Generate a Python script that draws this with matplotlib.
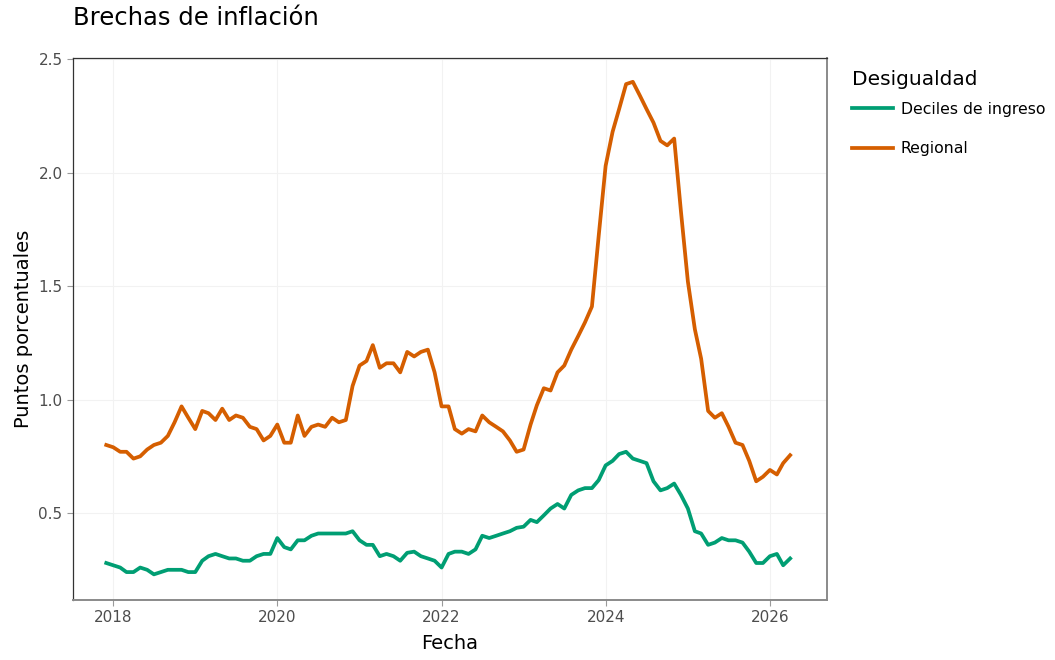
import matplotlib
matplotlib.use("Agg")
import matplotlib.pyplot as plt
import matplotlib.dates as mdates
import pandas as pd

plt.rcParams['font.family'] = ['DejaVu Sans']

start_month = "2017-12-01"
n_months = 101

regional = [
    0.80,
    0.79, 0.77, 0.77, 0.74, 0.75, 0.78, 0.80, 0.81, 0.84, 0.90, 0.97, 0.92,
    0.87, 0.95, 0.94, 0.91, 0.96, 0.91, 0.93, 0.92, 0.88, 0.87, 0.82, 0.84,
    0.89, 0.81, 0.81, 0.93, 0.84, 0.88, 0.89, 0.88, 0.92, 0.90, 0.91, 1.06,
    1.15, 1.17, 1.24, 1.14, 1.16, 1.16, 1.12, 1.21, 1.19, 1.21, 1.22, 1.12,
    0.97, 0.97, 0.87, 0.85, 0.87, 0.86, 0.93, 0.90, 0.88, 0.86, 0.82, 0.77,
    0.78, 0.89, 0.975, 1.05, 1.04, 1.12, 1.15, 1.22, 1.28, 1.34, 1.41, 1.72,
    2.03, 2.18, 2.28, 2.39, 2.40, 2.34, 2.28, 2.22, 2.14, 2.12, 2.15, 1.83,
    1.52, 1.31, 1.18, 0.95, 0.92, 0.94, 0.88, 0.81, 0.80, 0.73, 0.64, 0.66,
    0.69, 0.67, 0.72, 0.755,
]

deciles = [
    0.28,
    0.27, 0.26, 0.24, 0.24, 0.26, 0.25, 0.23, 0.24, 0.25, 0.25, 0.25, 0.24,
    0.24, 0.29, 0.31, 0.32, 0.31, 0.30, 0.30, 0.29, 0.29, 0.31, 0.32, 0.32,
    0.39, 0.35, 0.34, 0.38, 0.38, 0.40, 0.41, 0.41, 0.41, 0.41, 0.41, 0.42,
    0.38, 0.36, 0.36, 0.31, 0.32, 0.31, 0.29, 0.325, 0.33, 0.31, 0.30, 0.29,
    0.26, 0.32, 0.33, 0.33, 0.32, 0.34, 0.40, 0.39, 0.40, 0.41, 0.42, 0.435,
    0.44, 0.47, 0.46, 0.49, 0.52, 0.54, 0.52, 0.58, 0.60, 0.61, 0.61, 0.645,
    0.71, 0.73, 0.76, 0.77, 0.74, 0.73, 0.72, 0.64, 0.60, 0.61, 0.63, 0.58,
    0.52, 0.42, 0.41, 0.36, 0.37, 0.39, 0.38, 0.38, 0.37, 0.33, 0.28, 0.28,
    0.31, 0.32, 0.27, 0.30,
]

series_names = ["Deciles de ingreso", "Regional"]
colors = ["#009E73", "#D55E00"]

dates = pd.date_range(start_month, periods=n_months, freq="MS")

fig = plt.figure(figsize=(10.55, 6.6), dpi=100)
ax = fig.add_axes([73/1055, 60/660, (827-73)/1055, (600-58)/660])

ax.plot(dates, deciles, color=colors[0], lw=2.7, label=series_names[0], solid_joinstyle="round")
ax.plot(dates, regional, color=colors[1], lw=2.7, label=series_names[1], solid_joinstyle="round")

ax.set_xlim(pd.Timestamp("2017-07-06"), pd.Timestamp("2026-09-12"))
ax.set_ylim(0.117, 2.505)
ax.set_yticks([0.5, 1.0, 1.5, 2.0, 2.5])
ax.set_yticklabels(["0.5", "1.0", "1.5", "2.0", "2.5"])
ax.xaxis.set_major_locator(mdates.YearLocator(2))
ax.xaxis.set_major_formatter(mdates.DateFormatter("%Y"))

ax.grid(True, color="#f2f2f2", lw=0.8)
ax.set_axisbelow(True)
ax.spines["left"].set_color("#333333")
ax.spines["top"].set_color("#333333")
ax.spines["left"].set_linewidth(0.9)
ax.spines["top"].set_linewidth(0.9)
ax.spines["right"].set_color("#8a8a8a")
ax.spines["bottom"].set_color("#8a8a8a")
ax.spines["right"].set_linewidth(1.4)
ax.spines["bottom"].set_linewidth(1.4)
ax.tick_params(axis="both", colors="#9a9a9a", labelcolor="#4d4d4d", labelsize=11, length=4, width=0.8, direction="out")

ax.set_xlabel("Fecha", fontsize=14, color="#000000", labelpad=6)
ax.set_ylabel("Puntos porcentuales", fontsize=14, color="#000000", labelpad=4)

fig.text(73/1055, 1 - 18/660, "Brechas de inflación", fontsize=17.5, va="center", ha="left", color="#000000")

leg = fig.legend(loc="upper left", bbox_to_anchor=(846/1055, 1 - 64/660), frameon=False,
                 title="Desigualdad", fontsize=11.3, title_fontsize=14.5,
                 handlelength=2.6, labelspacing=1.55, handletextpad=0.5, borderaxespad=0)
leg._legend_box.align = "left"
leg._legend_box.sep = 9

fig.savefig("out.png", dpi=100)
